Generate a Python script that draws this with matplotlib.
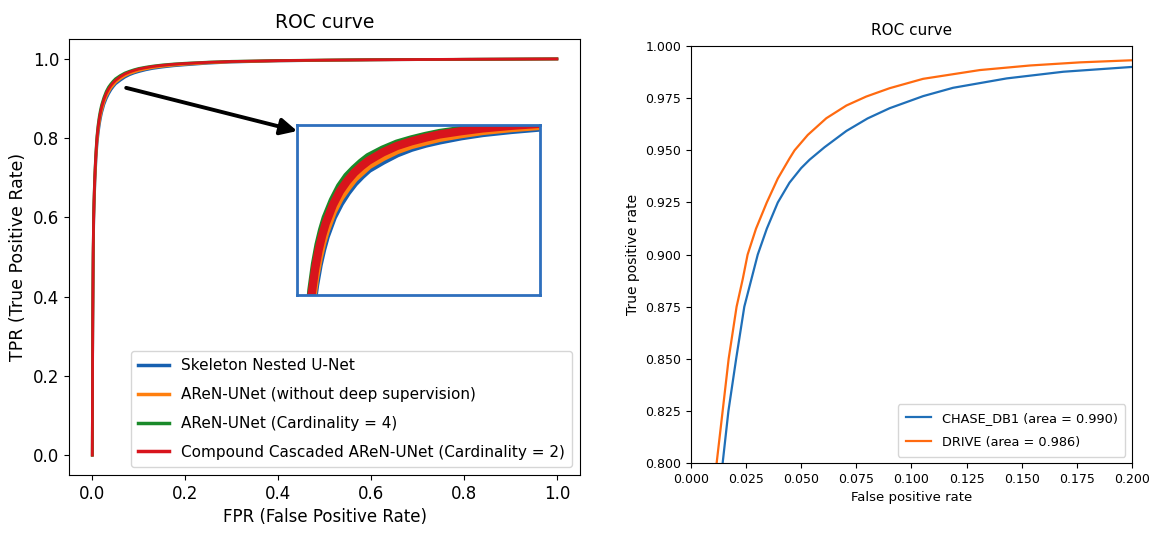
import matplotlib
matplotlib.use("Agg")
import matplotlib.pyplot as plt

# ---------------- Left panel data ----------------
fpr_left = [0.0, 0.0005, 0.001, 0.002, 0.003, 0.004, 0.006, 0.008, 0.01, 0.0125,
            0.015, 0.0175, 0.02, 0.025, 0.03, 0.035, 0.04, 0.045, 0.05, 0.06, 0.07,
            0.08, 0.09, 0.1, 0.115, 0.13, 0.15, 0.175, 0.2, 0.25, 0.3, 0.4, 0.5,
            0.6, 0.7, 0.8, 0.9, 1.0]
tpr_skeleton = [0.0, 0.18, 0.32, 0.50, 0.58, 0.632, 0.699, 0.746, 0.782, 0.811,
                0.833, 0.850, 0.864, 0.885, 0.900, 0.912, 0.922, 0.930, 0.937, 0.946,
                0.954, 0.960, 0.9645, 0.968, 0.9725, 0.976, 0.9793, 0.9826, 0.985,
                0.9893, 0.9921, 0.9949, 0.9964, 0.9975, 0.9983, 0.999, 0.9995, 1.0]
tpr_noDS = [0.0, 0.19, 0.33, 0.51, 0.59, 0.642, 0.708, 0.755, 0.790, 0.819,
            0.840, 0.857, 0.870, 0.891, 0.906, 0.917, 0.927, 0.934, 0.941, 0.950,
            0.9575, 0.963, 0.967, 0.9708, 0.9748, 0.9782, 0.9813, 0.9843, 0.9866,
            0.9902, 0.9927, 0.9952, 0.9966, 0.9976, 0.9983, 0.999, 0.9995, 1.0]
tpr_card4 = [0.0, 0.20, 0.35, 0.53, 0.61, 0.661, 0.726, 0.771, 0.806, 0.834,
             0.855, 0.871, 0.884, 0.903, 0.918, 0.929, 0.937, 0.944, 0.950, 0.958,
             0.9645, 0.969, 0.9728, 0.976, 0.9793, 0.982, 0.9848, 0.9873, 0.9892,
             0.992, 0.994, 0.996, 0.9972, 0.998, 0.9986, 0.9991, 0.9995, 1.0]
tpr_compound = [0.0, 0.20, 0.345, 0.525, 0.605, 0.655, 0.72, 0.765, 0.800, 0.828,
                0.849, 0.865, 0.878, 0.898, 0.913, 0.924, 0.933, 0.940, 0.946, 0.955,
                0.962, 0.967, 0.971, 0.9745, 0.978, 0.981, 0.9838, 0.9865, 0.9885,
                0.9915, 0.9935, 0.9957, 0.997, 0.9979, 0.9985, 0.9991, 0.9995, 1.0]
left_labels = ["Skeleton Nested U-Net",
               "AReN-UNet (without deep supervision)",
               "AReN-UNet (Cardinality = 4)",
               "Compound Cascaded AReN-UNet (Cardinality = 2)"]
left_colors = ["#1660b0", "#ff7f0e", "#1a8a2a", "#d8141c"]

# ---------------- Right panel data ----------------
fpr_chase = [0.0125, 0.01438, 0.0170, 0.0205, 0.0242, 0.0303, 0.0344, 0.0394,
             0.0447, 0.0500, 0.0538, 0.0606, 0.0705, 0.0801, 0.0901, 0.1053,
             0.1189, 0.1432, 0.1689, 0.2, 0.21]
tpr_chase = [0.785, 0.800, 0.825, 0.850, 0.875, 0.900, 0.9124, 0.925,
             0.9345, 0.9415, 0.9455, 0.9515, 0.9593, 0.9653, 0.9702, 0.9760,
             0.9800, 0.9845, 0.9877, 0.9900, 0.9906]
fpr_drive = [0.0100, 0.01165, 0.01438, 0.0171, 0.0207, 0.0235, 0.0257, 0.0295,
             0.0344, 0.0394, 0.0447, 0.0470, 0.0530, 0.0614, 0.0705, 0.0795,
             0.0901, 0.1053, 0.1310, 0.1538, 0.1765, 0.2, 0.21]
tpr_drive = [0.785, 0.800, 0.825, 0.850, 0.875, 0.8883, 0.900, 0.9124,
             0.925, 0.9365, 0.9461, 0.950, 0.9574, 0.9654, 0.9715, 0.9758,
             0.9798, 0.9843, 0.9885, 0.9907, 0.9922, 0.9932, 0.9935]
right_labels = ["CHASE_DB1 (area = 0.990)", "DRIVE (area = 0.986)"]
right_colors = ["#1f6fb8", "#ff6a10"]

fig = plt.figure(figsize=(11.51, 5.36), dpi=100)

# ---------------- Left panel ----------------
axL = fig.add_axes([0.0600, 0.114, 0.444, 0.813])
series_left = [tpr_skeleton, tpr_noDS, tpr_card4, tpr_compound]
for i in range(4):
    axL.plot(fpr_left, series_left[i], color=left_colors[i], lw=2.0, label=left_labels[i])
axL.set_xlim(-0.05, 1.05)
axL.set_ylim(-0.05, 1.05)
axL.set_xticks([0.0, 0.2, 0.4, 0.6, 0.8, 1.0])
axL.set_yticks([0.0, 0.2, 0.4, 0.6, 0.8, 1.0])
axL.tick_params(labelsize=12)
axL.set_xlabel("FPR (False Positive Rate)", fontsize=12)
axL.set_ylabel("TPR (True Positive Rate)", fontsize=12.5)
axL.set_title("ROC curve", fontsize=13.5, pad=8)
leg = axL.legend(loc="lower right", fontsize=11, handlelength=2.0,
                 borderaxespad=0.5, labelspacing=0.9, borderpad=0.5)
for line in leg.get_lines():
    line.set_linewidth(2.5)

# inset zoom
axI = axL.inset_axes([0.441, 0.403, 0.522, 0.431], transform=axL.transData)
for i in range(4):
    axI.plot(fpr_left, series_left[i], color=left_colors[i], lw=6.0,
             solid_capstyle="butt", solid_joinstyle="round")
axI.set_xlim(0.0, 0.17)
axI.set_ylim(0.80, 0.985)
axI.set_xticks([])
axI.set_yticks([])
for s in axI.spines.values():
    s.set_color("#2e6fbd")
    s.set_linewidth(2.0)

axL.annotate("", xy=(0.441, 0.818), xytext=(0.073, 0.927),
             arrowprops=dict(arrowstyle="-|>,head_length=1.0,head_width=0.5",
                             color="black", lw=2.8, shrinkA=0, shrinkB=0))

# ---------------- Right panel ----------------
axR = fig.add_axes([0.6003, 0.136, 0.3831, 0.778])
axR.plot(fpr_chase, tpr_chase, color=right_colors[0], lw=1.6, label=right_labels[0])
axR.plot(fpr_drive, tpr_drive, color=right_colors[1], lw=1.6, label=right_labels[1])
axR.set_xlim(0.0, 0.2)
axR.set_ylim(0.8, 1.0)
axR.set_xticks([0.0, 0.025, 0.05, 0.075, 0.1, 0.125, 0.15, 0.175, 0.2])
axR.set_xticklabels(["0.000", "0.025", "0.050", "0.075", "0.100", "0.125",
                     "0.150", "0.175", "0.200"])
axR.set_yticks([0.8, 0.825, 0.85, 0.875, 0.9, 0.925, 0.95, 0.975, 1.0])
axR.set_yticklabels(["0.800", "0.825", "0.850", "0.875", "0.900", "0.925",
                     "0.950", "0.975", "1.000"])
axR.tick_params(labelsize=9)
axR.set_xlabel("False positive rate", fontsize=9.5)
axR.set_ylabel("True positive rate", fontsize=10)
axR.set_title("ROC curve", fontsize=11, pad=8)
axR.legend(loc="lower right", fontsize=9.3, labelspacing=0.85, borderpad=0.6)

fig.savefig("out.png", dpi=100)
